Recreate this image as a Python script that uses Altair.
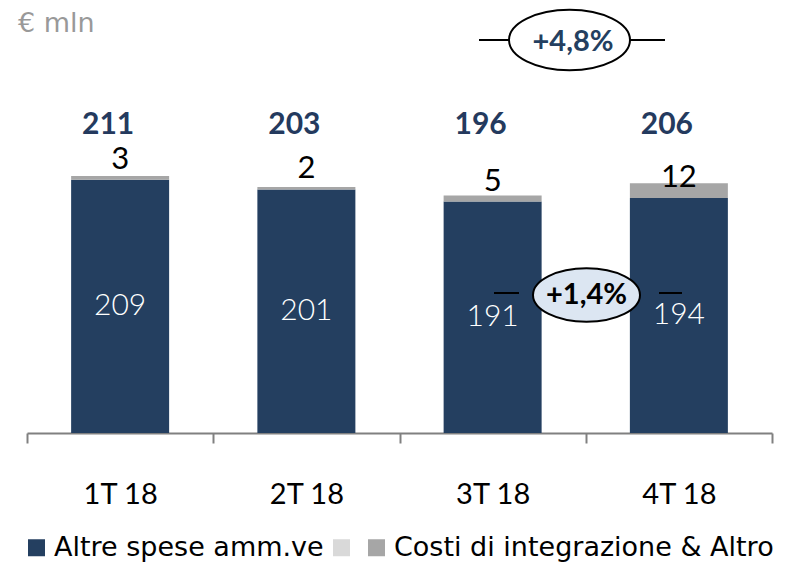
import altair as alt
import pandas as pd

quarters = ["1T 18", "2T 18", "3T 18", "4T 18"]
altre = [209, 201, 191, 194]
costi = [3, 2, 5, 12]
totals = [211, 203, 196, 206]
series_names = ["Altre spese amm.ve", "", "Costi di integrazione & Altro"]
series_colors = ["#243F60", "#D9D9D9", "#A6A6A6"]
growth_top = "+4,8%"
growth_mid = "+1,4%"
unit = "€ mln"

rows = []
for q, a, c in zip(quarters, altre, costi):
    rows.append({"q": q, "serie": series_names[0], "start": 0, "end": a})
    rows.append({"q": q, "serie": series_names[2], "start": a, "end": a + c})
bars_df = pd.DataFrame(rows)
labels_df = pd.DataFrame({"q": quarters, "altre": altre, "costi": costi, "tot": totals})
anno_df = pd.DataFrame({"top": [growth_top], "mid": [growth_mid], "unit": [unit]})

NAVY = "#243F60"
X = alt.X(
    "q:N", sort=quarters, title=None,
    scale=alt.Scale(paddingInner=0, paddingOuter=0),
    axis=alt.Axis(labelAngle=0, tickBand="extent", domainColor="#808080", domainWidth=2,
                  tickColor="#808080", tickWidth=2, tickSize=10, labelFontSize=29,
                  labelFont="Lato", labelColor="black", labelPadding=37, grid=False),
)
YS = alt.Scale(domain=[0, 350.7], nice=False, zero=True)

bars = alt.Chart(bars_df).mark_bar(size=98).encode(
    x=X,
    y=alt.Y("start:Q", scale=YS, axis=None),
    y2="end:Q",
    color=alt.Color("serie:N", scale=alt.Scale(domain=series_names, range=series_colors),
                    legend=alt.Legend(orient="none", legendX=-4, legendY=526, direction="horizontal",
                                      title=None, symbolType="square", symbolSize=289,
                                      symbolStrokeWidth=0, labelFontSize=27, labelFont="DejaVu Sans",
                                      labelColor="black", labelOffset=4, columnPadding=4,
                                      padding=0, symbolOpacity=1, labelLimit=0)),
)

inner = alt.Chart(labels_df).transform_calculate(mid="datum.altre / 2").mark_text(
    color="white", fontSize=30, font="Lato", fontWeight=300
).encode(x=X, y=alt.Y("mid:Q", scale=YS, axis=None), text="altre:Q")

seg = alt.Chart(labels_df).mark_text(
    color="black", fontSize=31, font="Lato", baseline="bottom", dy=-4
).encode(x=X, y=alt.Y("altre:Q", scale=YS, axis=None), text="costi:Q")

tot = alt.Chart(labels_df).mark_text(
    color="#243A5E", fontSize=30, font="Lato", fontWeight="bold", dx=-12
).encode(x=X, y=alt.value(117), text="tot:Q")

ell = "M-1,0A1,0.5,0,1,1,1,0A1,0.5,0,1,1,-1,0Z"
anno = alt.Chart(anno_df)
unit_txt = anno.mark_text(color="#999999", fontSize=27, font="DejaVu Sans", align="left").encode(
    x=alt.value(-9), y=alt.value(16), text="unit:N")
l1 = anno.mark_rule(color="black", strokeWidth=2).encode(x=alt.value(452), x2=alt.value(482), y=alt.value(32))
l2 = anno.mark_rule(color="black", strokeWidth=2).encode(x=alt.value(603), x2=alt.value(638), y=alt.value(32))
e1 = anno.mark_point(shape=ell, size=121 * 121, filled=True, fill="white", stroke="black",
                     strokeWidth=2, opacity=1).encode(x=alt.value(542.5), y=alt.value(32))
t1 = anno.mark_text(color=NAVY, fontSize=29, font="Lato", fontWeight="bold").encode(
    x=alt.value(546), y=alt.value(34), text="top:N")
l3 = anno.mark_rule(color="black", strokeWidth=2).encode(x=alt.value(467), x2=alt.value(492), y=alt.value(285))
l4 = anno.mark_rule(color="black", strokeWidth=2).encode(x=alt.value(632), x2=alt.value(655), y=alt.value(285))
e2 = anno.mark_point(shape=ell, size=107 * 107, filled=True, fill="#DCE6F2", stroke="black",
                     strokeWidth=2, opacity=1).encode(x=alt.value(559.5), y=alt.value(287))
t2 = anno.mark_text(color="black", fontSize=29, font="Lato", fontWeight="bold").encode(
    x=alt.value(559.5), y=alt.value(287), text="mid:N")

chart = alt.layer(bars, inner, seg, tot, unit_txt, l1, l2, e1, t1, l3, l4, e2, t2).properties(
    width=745, height=425,
    autosize=alt.AutoSizeParams(type="none"),
    padding={"left": 19, "top": 0, "right": 23, "bottom": 129},
).configure_view(stroke=None)

chart.save("out.html", embed_options={"renderer": "svg", "actions": False})
